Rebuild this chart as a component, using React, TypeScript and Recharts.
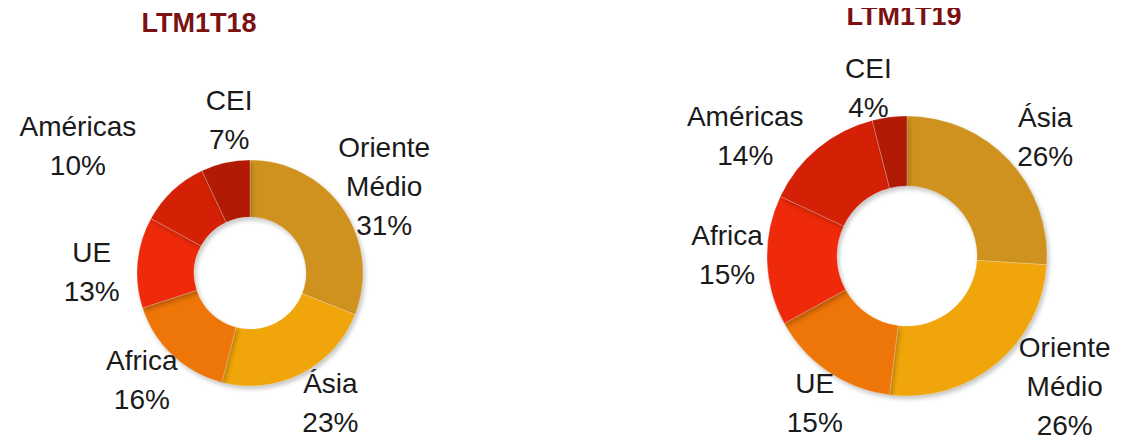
import React from "react";
import { PieChart, Pie, Cell } from "recharts";

// LTM1T18 (clockwise from top)
const regions18 = ["Oriente Médio", "Ásia", "Africa", "UE", "Américas", "CEI"];
const share18 = [31, 23, 16, 13, 10, 7];

// LTM1T19 (clockwise from top)
const regions19 = ["Ásia", "Oriente Médio", "UE", "Africa", "Américas", "CEI"];
const share19 = [26, 26, 15, 15, 14, 4];

const titles = ["LTM1T18", "LTM1T19"];

// colours go by slice position, same for both donuts
const palette = ["#D0921F", "#F0A50A", "#EE7508", "#EE2A0A", "#D42005", "#B11A03"];

// hand nudges for the data labels (like the moved labels in the original)
const nudge18: [number, number][] = [[6, 0], [10, -9], [-2, -6], [-4, 13], [-66, -15], [13, -2]];
const nudge19: [number, number][] = [[7, 4], [43, -9], [9, -2], [0, -7], [-47, 18], [-16, 10]];

const data18 = regions18.map((name, i) => ({ name, value: share18[i] }));
const data19 = regions19.map((name, i) => ({ name, value: share19[i] }));

const FONT = "'Liberation Sans', Arial, sans-serif";
const RAD = Math.PI / 180;

const makeLabel = (gap: number, nudge: [number, number][]) => (props: any) => {
  const { cx, cy, midAngle, outerRadius, name, value, index } = props;
  const r = outerRadius + gap;
  const [nx, ny] = nudge[index] || [0, 0];
  const x = cx + r * Math.cos(-midAngle * RAD) + nx;
  const y = cy + r * Math.sin(-midAngle * RAD) + ny;
  const lines = [...String(name).split(" "), `${value}%`];
  const lh = 39;
  const y0 = y - ((lines.length - 1) * lh) / 2;
  return (
    <text
      x={x}
      y={y0}
      textAnchor="middle"
      dominantBaseline="central"
      fill="#1a1a1a"
      fontSize={28}
      fontFamily={FONT}
    >
      {lines.map((l, i) => (
        <tspan key={i} x={x} y={y0 + i * lh} dominantBaseline="central">
          {l}
        </tspan>
      ))}
    </text>
  );
};

const titleStyle: React.CSSProperties = {
  position: "absolute",
  fontFamily: FONT,
  fontWeight: 700,
  fontSize: 27,
  color: "#7B1111",
  transform: "translate(-50%, -50%)",
  whiteSpace: "nowrap",
};

export default function App() {
  return (
    <div style={{ position: "relative", width: 1143, height: 444, margin: -8, background: "#fff" }}>
      <style>{`.recharts-pie-sector { filter: drop-shadow(2px 3px 2px rgba(0,0,0,0.22)); }`}</style>
      <div style={{ ...titleStyle, left: 199, top: 23 }}>{titles[0]}</div>
      <div style={{ ...titleStyle, left: 904, top: 16 }}>{titles[1]}</div>
      <PieChart
        width={1143}
        height={444}
        margin={{ top: 0, right: 0, bottom: 0, left: 0 }}
        style={{ position: "absolute", left: 0, top: 0 }}
      >
        <Pie
          data={data18}
          dataKey="value"
          nameKey="name"
          cx={250}
          cy={273}
          innerRadius={56}
          outerRadius={113}
          startAngle={90}
          endAngle={-270}
          stroke="rgba(255,255,255,0.4)"
          strokeWidth={0.6}
          label={makeLabel(42, nudge18)}
          labelLine={false}
          isAnimationActive={false}
        >
          {data18.map((d, i) => (
            <Cell key={d.name} fill={palette[i]} />
          ))}
        </Pie>
        <Pie
          data={data19}
          dataKey="value"
          nameKey="name"
          cx={907}
          cy={256}
          innerRadius={70}
          outerRadius={140}
          startAngle={90}
          endAngle={-270}
          stroke="rgba(255,255,255,0.4)"
          strokeWidth={0.6}
          label={makeLabel(40, nudge19)}
          labelLine={false}
          isAnimationActive={false}
        >
          {data19.map((d, i) => (
            <Cell key={d.name} fill={palette[i]} />
          ))}
        </Pie>
      </PieChart>
    </div>
  );
}
